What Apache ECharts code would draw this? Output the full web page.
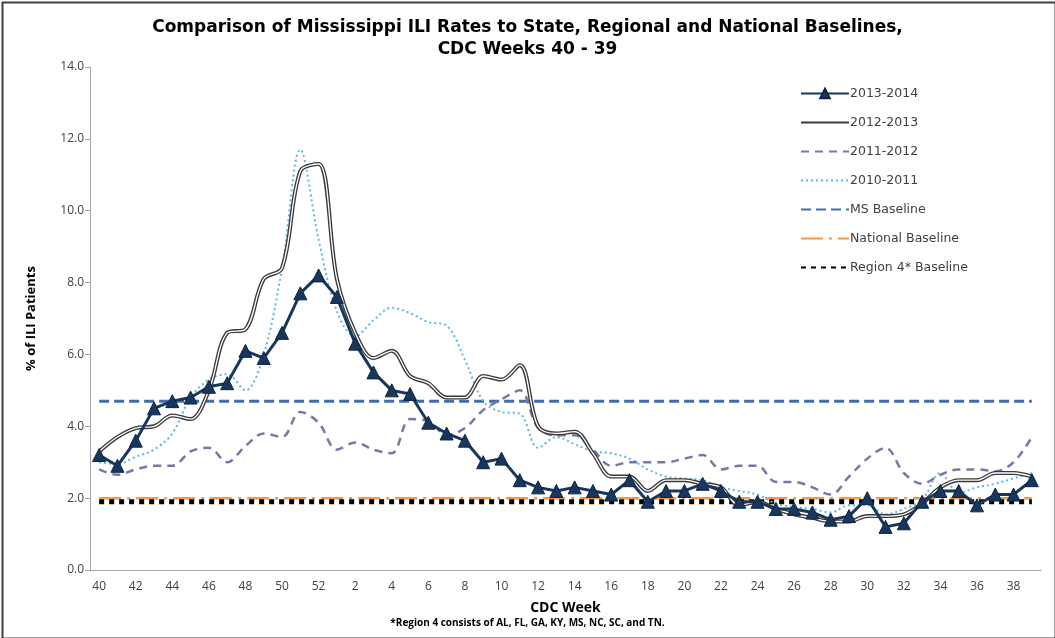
<!DOCTYPE html>
<html>
<head>
<meta charset="utf-8">
<script src="https://cdn.jsdelivr.net/npm/echarts@6/dist/echarts.min.js"></script>
<style>
  html, body { margin: 0; padding: 0; background: #fff; }
  #chart { width: 1055px; height: 638px; }
</style>
</head>
<body>
<div id="chart"></div>
<script>
// CDC weeks 40..52 then 1..39
const weeks = ["40","41","42","43","44","45","46","47","48","49","50","51","52",
  "1","2","3","4","5","6","7","8","9","10","11","12","13","14","15","16","17","18","19","20",
  "21","22","23","24","25","26","27","28","29","30","31","32","33","34","35","36","37","38","39"];

const season2013 = [3.2,2.9,3.6,4.5,4.7,4.8,5.1,5.2,6.1,5.9,6.6,7.7,8.2,
  7.6,6.3,5.5,5.0,4.9,4.1,3.8,3.6,3.0,3.1,2.5,2.3,2.2,2.3,2.2,2.1,2.5,1.9,2.2,2.2,
  2.4,2.2,1.9,1.9,1.7,1.7,1.6,1.4,1.5,2.0,1.2,1.3,1.9,2.2,2.2,1.8,2.1,2.1,2.5];

const season2012 = [3.3,3.7,3.95,4.0,4.3,4.2,5.0,6.6,6.7,8.1,8.4,11.1,11.3,
  8.1,6.6,5.9,6.1,5.4,5.2,4.8,4.8,5.4,5.3,5.7,4.0,3.8,3.85,3.25,2.6,2.6,2.2,2.5,2.5,
  2.4,2.3,1.8,1.9,1.7,1.55,1.45,1.35,1.35,1.5,1.5,1.55,1.85,2.3,2.5,2.5,2.7,2.7,2.6];

const season2011 = [2.8,2.65,2.8,2.9,2.9,3.3,3.4,3.0,3.45,3.8,3.7,4.4,4.1,
  3.35,3.55,3.35,3.25,4.2,4.15,3.75,3.95,4.45,4.75,5.0,3.95,3.75,3.75,3.35,2.9,3.0,3.0,3.0,3.1,
  3.2,2.8,2.9,2.9,2.45,2.45,2.3,2.1,2.6,3.1,3.4,2.7,2.4,2.65,2.8,2.8,2.75,3.0,3.7];

const season2010 = [3.0,2.95,3.15,3.35,3.8,4.8,5.3,5.45,5.0,6.0,8.4,11.7,9.2,
  7.2,6.5,6.95,7.3,7.15,6.9,6.8,5.85,4.7,4.4,4.35,3.4,3.7,3.5,3.3,3.25,3.1,2.8,2.6,2.55,
  2.5,2.3,2.2,2.1,1.85,1.75,1.7,1.6,1.8,1.8,1.55,1.7,1.95,2.7,2.15,2.3,2.4,2.55,2.7];

const msBaseline = 4.7;
const nationalBaseline = 2.0;
const region4Baseline = 1.9;

const yTicks = [0, 2, 4, 6, 8, 10, 12, 14];

const firstWeek = weeks[0];
const lastWeek = weeks[weeks.length - 1];
function flat(v) {
  return [[firstWeek, v], [lastWeek, v]];
}

const font = "'Open Sans', 'DejaVu Sans', sans-serif";
const wide = "'DejaVu Sans', sans-serif";

// legend entries; hide the round marker on plain lines
const noMark = { opacity: 0 };
const legendItems = [
  { name: "2013-2014" },
  { name: "2012-2013", itemStyle: noMark },
  { name: "2011-2012", itemStyle: noMark },
  { name: "2010-2011", itemStyle: noMark },
  { name: "MS Baseline", itemStyle: noMark },
  { name: "National Baseline", itemStyle: noMark },
  { name: "Region 4* Baseline", itemStyle: noMark }
];

const chart = echarts.init(document.getElementById("chart"), null, { renderer: "canvas" });

const option = {
  animation: false,
  backgroundColor: "#fff",
  title: {
    text: "Comparison of Mississippi ILI Rates to State, Regional and National Baselines,\nCDC Weeks 40 - 39",
    left: "center",
    top: 12,
    textStyle: {
      fontFamily: wide,
      fontSize: 17,
      fontWeight: "bold",
      color: "#000",
      lineHeight: 22
    }
  },
  legend: {
    orient: "vertical",
    left: 800,
    top: 87,
    padding: 0,
    itemWidth: 48,
    itemHeight: 12,
    itemGap: 16,
    textStyle: { fontFamily: wide, fontSize: 12.5, color: "#404040", padding: [0, 0, 0, -4] },
    data: legendItems
  },
  grid: {
    left: 90,
    right: 14,
    top: 67,
    bottom: 68
  },
  xAxis: {
    type: "category",
    data: weeks,
    boundaryGap: true,
    name: "CDC Week",
    nameLocation: "middle",
    nameGap: 31,
    nameTextStyle: { fontFamily: font, fontSize: 14, fontWeight: "bold", color: "#000" },
    axisLine: { lineStyle: { color: "#a6a6a6", width: 1 } },
    axisTick: { interval: 1, length: 5, lineStyle: { color: "#a6a6a6" } },
    axisLabel: { interval: 1, fontFamily: font, fontSize: 12, color: "#404040", margin: 11 }
  },
  yAxis: {
    type: "value",
    min: yTicks[0],
    max: yTicks[yTicks.length - 1],
    interval: 2,
    name: "% of ILI Patients",
    nameLocation: "middle",
    nameGap: 52,
    nameTextStyle: { fontFamily: font, fontSize: 13, fontWeight: "bold", color: "#000" },
    axisLine: { show: true, lineStyle: { color: "#a6a6a6", width: 1 } },
    axisTick: { show: true, length: 5, lineStyle: { color: "#a6a6a6" } },
    splitLine: { show: false },
    axisLabel: {
      fontFamily: font, fontSize: 12, color: "#404040", margin: 6,
      formatter: v => v.toFixed(1)
    }
  },
  series: [
    {
      name: "Region 4* Baseline",
      type: "line",
      data: flat(region4Baseline),
      symbol: "none",
      z: 2,
      lineStyle: { color: "#000", width: 5, type: [5, 5] },
      itemStyle: { color: "#000" }
    },
    {
      name: "National Baseline",
      type: "line",
      data: flat(nationalBaseline),
      symbol: "none",
      z: 1,
      lineStyle: { color: "#f79646", width: 2.5, type: [22, 6, 3, 6] },
      itemStyle: { color: "#f79646" }
    },
    {
      name: "MS Baseline",
      type: "line",
      data: flat(msBaseline),
      symbol: "none",
      z: 2,
      lineStyle: { color: "#3f6eab", width: 3, type: [10, 5] },
      itemStyle: { color: "#3f6eab" }
    },
    {
      name: "2010-2011",
      type: "line",
      data: season2010,
      smooth: 0.35,
      symbol: "none",
      z: 3,
      lineStyle: { color: "#5bb8e4", width: 2, type: [2, 3] },
      itemStyle: { color: "#5bb8e4" }
    },
    {
      name: "2011-2012",
      type: "line",
      data: season2011,
      smooth: 0.35,
      symbol: "none",
      z: 3,
      lineStyle: { color: "#7a76a8", width: 2.5, type: [8, 6] },
      itemStyle: { color: "#7a76a8" }
    },
    {
      name: "2012-2013",
      type: "line",
      data: season2012,
      smooth: 0.35,
      symbol: "none",
      z: 4,
      lineStyle: { color: "#3a3a3a", width: 4 },
      itemStyle: { color: "#3a3a3a" }
    },
    {
      name: "2012-2013 inner",
      type: "line",
      data: season2012,
      smooth: 0.35,
      symbol: "none",
      z: 5,
      silent: true,
      lineStyle: { color: "#fff", width: 1.3 },
      itemStyle: { color: "#fff" }
    },
    {
      name: "2013-2014",
      type: "line",
      data: season2013,
      symbol: "triangle",
      symbolSize: 13,
      showAllSymbol: true,
      z: 6,
      lineStyle: { color: "#17375e", width: 3 },
      itemStyle: { color: "#17375e", borderColor: "#0f2440", borderWidth: 1 }
    }
  ],
  graphic: [
    {
      type: "text",
      left: "center",
      top: 618,
      style: {
        text: "*Region 4 consists of AL, FL, GA, KY, MS, NC, SC, and TN.",
        font: "bold 10px " + font,
        fill: "#000"
      }
    },
    {
      type: "rect",
      left: 0,
      top: 0,
      shape: { x: 0.5, y: 0.5, width: 1053, height: 636 },
      style: { fill: "none", stroke: "#404040", lineWidth: 2 },
      silent: true
    }
  ]
};

chart.setOption(option);
</script>
</body>
</html>
